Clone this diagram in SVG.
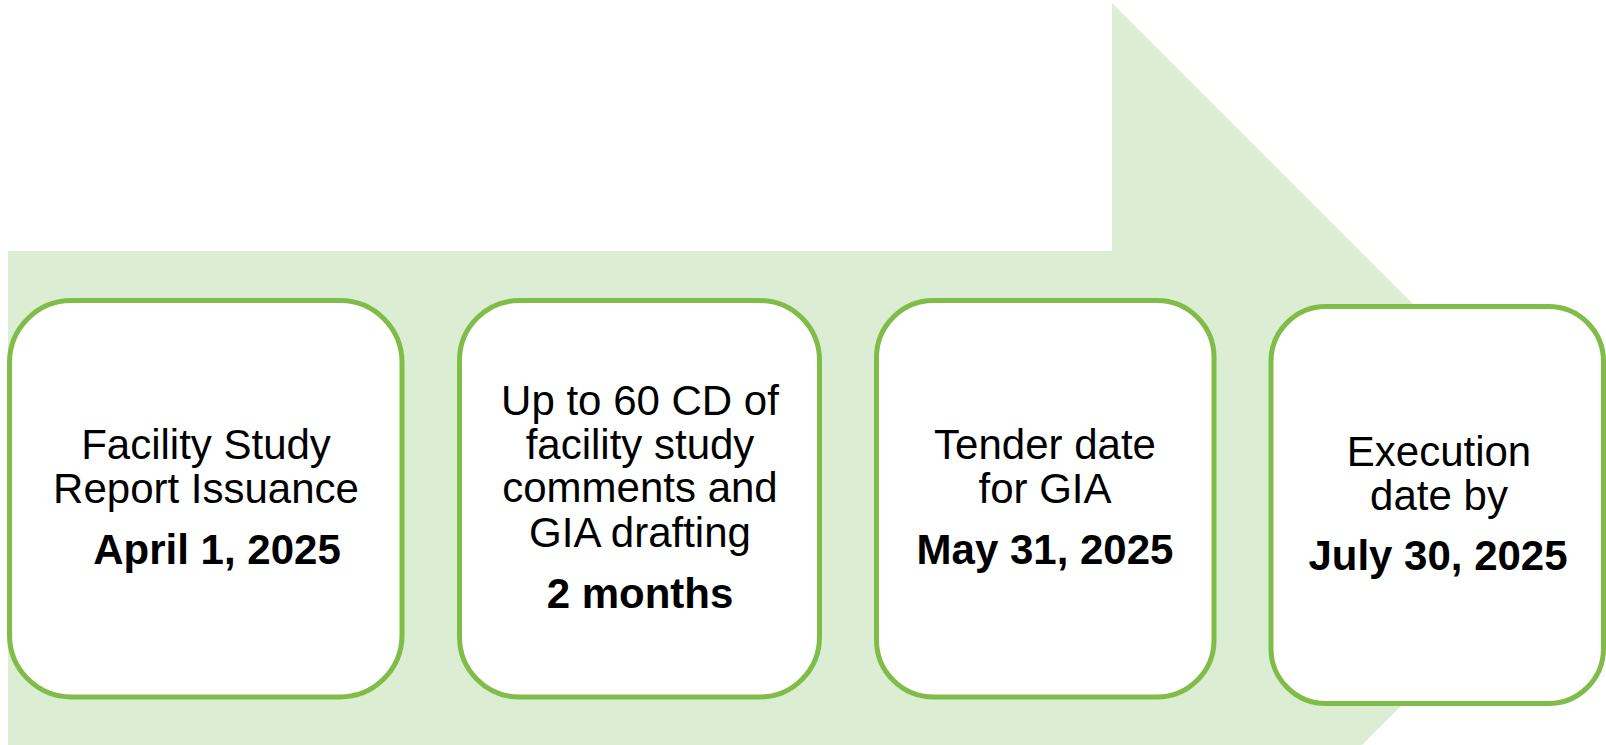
<svg xmlns="http://www.w3.org/2000/svg" width="1606" height="745" viewBox="0 0 1606 745">
<style>
.bg{fill:#DBEDD2;stroke:none}
.box{fill:#FFFFFF;stroke:#80BC48;stroke-width:5}
text{font-family:"Liberation Sans",Arial,sans-serif;font-size:42px;fill:#000000;text-anchor:middle}
.b{font-weight:bold}
</style>
<g id="arrow">
<path class="bg" d="M8,251 H1112 V3 L1608,499 L1112,995 V747 H8 Z"/>
</g>
<g id="connectors"></g>
<g id="node1">
<rect class="box" x="9.5" y="300.5" width="392.5" height="396.5" rx="62" ry="62"/>
<text x="206" y="459">Facility Study</text>
<text x="206" y="503">Report Issuance</text>
<text class="b" x="217" y="564">April 1, 2025</text>
</g>
<g id="node2">
<rect class="box" x="459.5" y="300.5" width="360" height="396.5" rx="60" ry="60"/>
<text x="640" y="415">Up to 60 CD of</text>
<text x="640" y="459">facility study</text>
<text x="640" y="502">comments and</text>
<text x="640" y="547">GIA drafting</text>
<text class="b" x="640" y="608">2 months</text>
</g>
<g id="node3">
<rect class="box" x="876.5" y="300.5" width="337.5" height="396.5" rx="57" ry="57"/>
<text x="1045" y="459">Tender date</text>
<text x="1045" y="503">for GIA</text>
<text class="b" x="1045" y="564">May 31, 2025</text>
</g>
<g id="node4">
<rect class="box" x="1271" y="306.5" width="332.5" height="397" rx="55" ry="55"/>
<text x="1439" y="466">Execution</text>
<text x="1439" y="510">date by</text>
<text class="b" x="1438" y="570">July 30, 2025</text>
</g>
</svg>
